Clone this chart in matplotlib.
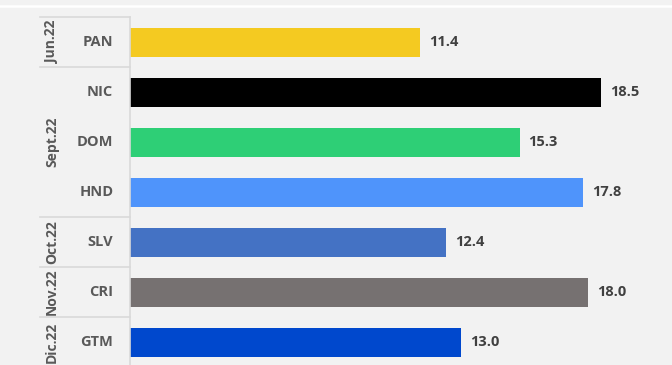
import matplotlib.pyplot as plt
from matplotlib.lines import Line2D

paises = ['PAN', 'NIC', 'DOM', 'HND', 'SLV', 'CRI', 'GTM']
valores = [11.4, 18.5, 15.3, 17.8, 12.4, 18.0, 13.0]
colores = ['#f4ca21', '#000000', '#2ecf76', '#4f94fb', '#4472c4', '#767171', '#0048cd']
meses = ['Jun.22', 'Sept.22', 'Oct.22', 'Nov.22', 'Dic.22']
tam_grupo = [1, 3, 1, 1, 1]

bg = '#f2f2f2'
texto = '#595959'
linea = '#d9d9d9'

W, H = 672, 365
fig = plt.figure(figsize=(W / 100, H / 100), dpi=100)
fig.patch.set_facecolor(bg)

# eje: x=0 en px 130, filas de 50 px empezando en y=17
left_px, top_px, fila = 130, 17, 50
n = len(paises)
ax = fig.add_axes([left_px / W, 1 - (top_px + n * fila) / H, (W - left_px) / W, n * fila / H])
ax.set_facecolor(bg)
escala = (601 - 130) / 18.5
ax.set_xlim(0, (W - left_px) / escala)
ax.set_ylim(n - 0.5, -0.5)

pos = list(range(n))
ax.barh(pos, valores, color=colores, height=0.58)

for s in ['top', 'right', 'bottom']:
    ax.spines[s].set_visible(False)
ax.spines['left'].set_color(linea)
ax.spines['left'].set_linewidth(1.2)
ax.set_xticks([])
ax.set_yticks([])

fuente = 'Open Sans'
for i, v in enumerate(valores):
    ax.annotate(f'{v:.1f}', (v, i), xytext=(6.5, 0), textcoords='offset points',
                ha='left', va='center', fontsize=10.5, fontweight='bold',
                color='#404040', family=fuente)
    ax.annotate(paises[i], (0, i), xycoords=('axes fraction', 'data'),
                xytext=(-12, 0), textcoords='offset points',
                ha='right', va='center', fontsize=10.5, fontweight='bold',
                color=texto, family=fuente)

# separadores de grupos y etiquetas de mes
x_sep = (40 - left_px) / (W - left_px)
x_mes = (52 - left_px) / (W - left_px)
inicio = 0
for mes, k in zip(meses, tam_grupo):
    y0 = inicio - 0.5
    ax.add_line(Line2D([x_sep, 0], [y0, y0], color=linea, lw=1.2,
                       transform=ax.get_yaxis_transform(), clip_on=False))
    ax.text(x_mes, inicio + (k - 1) / 2, mes, transform=ax.get_yaxis_transform(),
            rotation=90, ha='center', va='center', fontsize=10, fontweight='bold',
            color=texto, family=fuente)
    inicio += k

# linea blanca superior
fig.add_artist(Line2D([0, 1], [1 - 6 / H, 1 - 6 / H], color='white', lw=1.8))

fig.savefig('out.png', dpi=100, facecolor=bg)
